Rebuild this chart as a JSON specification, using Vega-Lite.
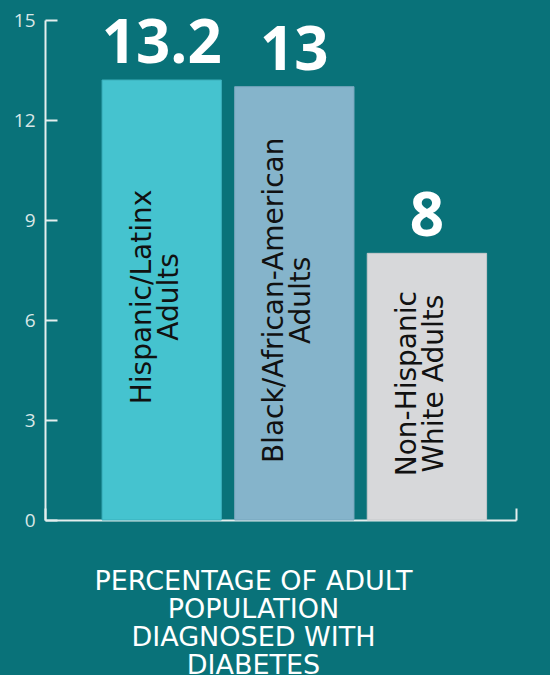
{
  "$schema": "https://vega.github.io/schema/vega-lite/v6.json",
  "width": 471,
  "height": 500,
  "autosize": {"type": "none"},
  "padding": {"left": 45, "top": 20, "right": 34, "bottom": 155},
  "background": "#097279",
  "config": {"view": {"stroke": null}},
  "title": {
    "text": ["PERCENTAGE OF ADULT", "POPULATION", "DIAGNOSED WITH", "DIABETES"],
    "orient": "bottom",
    "anchor": "middle",
    "dx": -27,
    "offset": 39,
    "font": "DejaVu Sans",
    "fontSize": 27,
    "fontWeight": "normal",
    "lineHeight": 28,
    "color": "#ffffff"
  },
  "data": {
    "values": [
      {"group": "Hispanic/Latinx Adults", "label": "Hispanic/Latinx\nAdults", "value": 13.2},
      {"group": "Black/African-American Adults", "label": "Black/African-American\nAdults", "value": 13},
      {"group": "Non-Hispanic White Adults", "label": "Non-Hispanic\nWhite Adults", "value": 8}
    ]
  },
  "layer": [
    {
      "encoding": {
        "x": {
          "field": "group", "type": "nominal", "sort": null,
          "scale": {"paddingInner": 0.1, "paddingOuter": 0.326, "align": 0.66},
          "axis": null
        }
      },
      "layer": [
        {
          "mark": {"type": "bar", "strokeWidth": 1},
          "encoding": {
            "y": {
              "field": "value", "type": "quantitative",
              "scale": {"domain": [0, 15], "nice": false},
              "axis": {
                "values": [0, 3, 6, 9, 12, 15],
                "title": null,
                "grid": false,
                "tickSize": -12,
                "labelPadding": 22,
                "domainColor": "#e4eeee",
                "tickColor": "#e4eeee",
                "domainWidth": 2,
                "tickWidth": 2,
                "labelColor": "#d9e7e7",
                "labelFont": "Open Sans",
                "labelFontSize": 19,
                "labelBaseline": "middle"
              }
            },
            "color": {
              "field": "group", "type": "nominal", "sort": null, "legend": null,
              "scale": {
                "domain": ["Hispanic/Latinx Adults", "Black/African-American Adults", "Non-Hispanic White Adults"],
                "range": ["#45c3cf", "#85b4cb", "#d7d8da"]
              }
            },
            "stroke": {
              "field": "group", "type": "nominal", "sort": null, "legend": null,
              "scale": {
                "domain": ["Hispanic/Latinx Adults", "Black/African-American Adults", "Non-Hispanic White Adults"],
                "range": ["#3aaeba", "#77a7bd", "#c4c8cb"]
              }
            }
          }
        },
        {
          "mark": {"type": "text", "font": "Open Sans", "fontWeight": "bold", "fontSize": 60, "color": "#ffffff", "baseline": "alphabetic", "dy": -17},
          "encoding": {
            "y": {"field": "value", "type": "quantitative"},
            "text": {"field": "value", "type": "quantitative"}
          }
        },
        {
          "transform": [{"calculate": "datum.value / 2", "as": "mid"}],
          "mark": {"type": "text", "font": "DejaVu Sans", "fontSize": 28, "lineHeight": 27, "color": "#111111", "angle": 270, "align": "center", "baseline": "middle", "lineBreak": "\n", "dx": 3, "dy": -19},
          "encoding": {
            "y": {"field": "mid", "type": "quantitative"},
            "text": {"field": "label", "type": "nominal"}
          }
        }
      ]
    },
    {
      "mark": {"type": "rule", "opacity": 0},
      "encoding": {
        "x": {
          "datum": 0, "type": "quantitative",
          "scale": {"domain": [0, 1]},
          "axis": {
            "orient": "bottom",
            "values": [0, 1],
            "title": null,
            "grid": false,
            "labels": false,
            "tickSize": -12,
            "domainColor": "#e4eeee",
            "tickColor": "#e4eeee",
            "domainWidth": 2,
            "tickWidth": 2
          }
        }
      }
    }
  ],
  "resolve": {"scale": {"x": "independent"}, "axis": {"x": "independent"}}
}
